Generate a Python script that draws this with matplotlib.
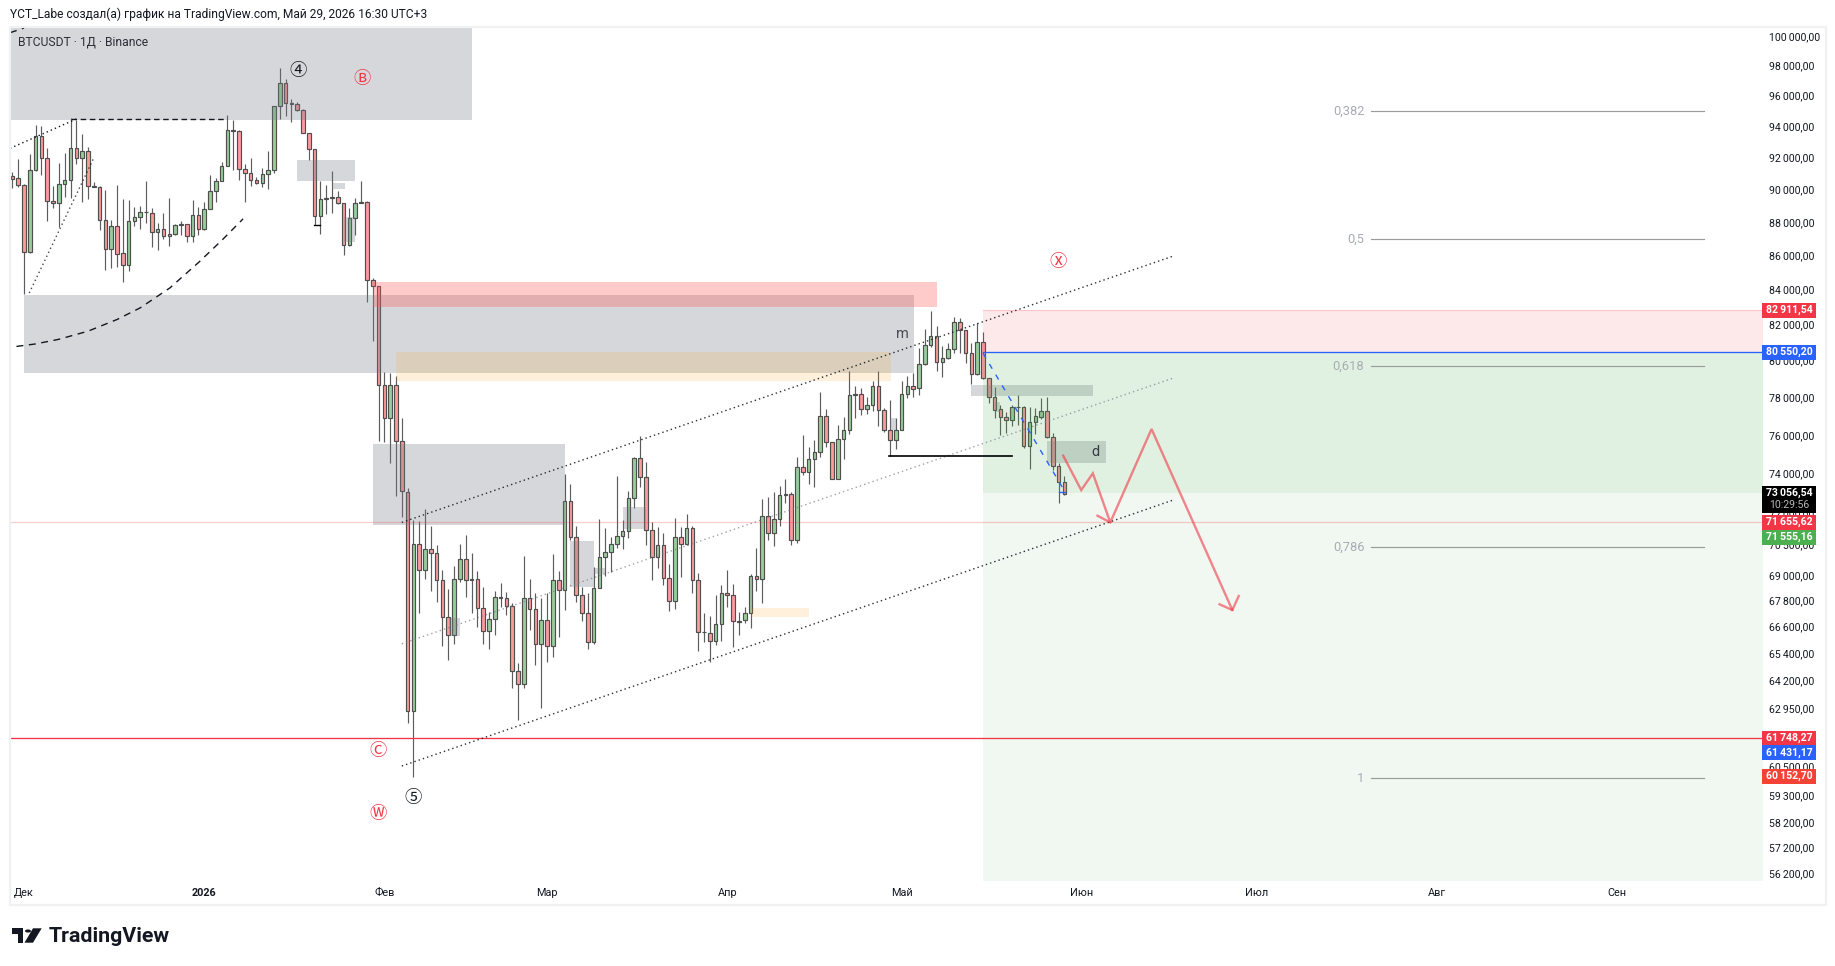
import numpy as np
import matplotlib
matplotlib.use("Agg")
import matplotlib.pyplot as plt
import matplotlib.transforms as mtransforms
from matplotlib.patches import Rectangle, Polygon, Circle

plt.rcParams['font.family'] = ['Roboto', 'DejaVu Sans']

# Daily BTCUSDT candles, first one is 29 Nov 2025, day 0 is 1 Jan 2026
days = np.arange(-33, 149)

opens = [90820, 90690, 90260, 86185, 91190, 93355, 91945, 89260, 89140, 90320,
         90570, 92575, 91945, 92380, 90190, 90150, 88110, 86360, 87750, 86130,
         85425, 88050, 88295, 88615, 88540, 87390, 87575, 87150, 87270, 87830,
         87870, 87150, 88415, 87575, 88785, 89880, 90510, 91445, 93720, 93685,
         91260, 91010, 90570, 90380, 90945, 91190, 95305, 96830, 95500, 95435,
         95045, 93545, 92510, 88355, 89385, 89465, 89505, 89140, 86605, 88230,
         89200, 89200, 84550, 84200, 78645, 76880, 78645, 75670, 73087, 62830,
         70485, 69242, 70240, 70049, 68766, 67034, 66206, 68813, 69764, 68766,
         68813, 67448, 66391, 66942, 67958, 67910, 67568, 64584, 64007, 67910,
         67402, 65792, 66896, 65700, 68766, 68291, 72601, 70831, 68053, 67218,
         65884, 68386, 69859, 70097, 70485, 70880, 71125, 72752, 74790, 73821,
         71175, 69859, 70435, 68860, 67770, 70831, 70485, 71272, 68766, 66358,
         66300, 65936, 66712, 68177, 68053, 66864, 66896, 67218, 68957, 68813,
         71863, 71027, 71715, 72905, 72955, 70683, 74331, 74076, 74739, 75096,
         76986, 75618, 73719, 75776, 76249, 78116, 78153, 77354, 77564, 78590,
         77301, 76249, 75723, 76249, 78153, 78590, 78481, 79791, 80838, 81346,
         79900, 80119, 80612, 82135, 81685, 80392, 79245, 81007, 79027, 78023,
         77354, 76933, 76754, 77459, 77490, 75439, 76670, 76965, 77249, 75881,
         74382, 73568]
highs = [91070, 91900, 90300, 92210, 94090, 94025, 92575, 90230, 91630, 92260,
         94520, 94410, 93500, 92680, 90480, 90190, 89960, 88130, 90280, 89400,
         89340, 88935, 88995, 90525, 88840, 87930, 88540, 89450, 87890, 88030,
         87890, 89340, 88935, 89240, 90900, 90690, 91695, 94740, 94370, 93720,
         91590, 91985, 90795, 91320, 92400, 95305, 97855, 97120, 95780, 95565,
         95110, 93545, 92510, 90525, 90280, 91150, 89915, 89140, 88840, 89460,
         90525, 89260, 84665, 84200, 79354, 79316, 79136, 76880, 73260, 71681,
         71598, 72222, 71386, 70452, 69256, 68353, 69446, 70500, 70944, 70049,
         69208, 68433, 67264, 68258, 68623, 68210, 67678, 64953, 69921, 68827,
         68148, 67910, 68148, 70016, 69208, 73989, 73490, 71386, 68462, 68148,
         69413, 71730, 71272, 70845, 73853, 71680, 73125, 74841, 75950, 74601,
         71568, 71323, 71027, 69541, 71779, 71323, 71976, 71386, 69099, 67218,
         67094, 68068, 68528, 69256, 68590, 67292, 67494, 69066, 70318, 72700,
         72798, 73058, 73376, 73714, 73078, 74841, 76002, 75387, 75739, 78280,
         77370, 75634, 76528, 76965, 79442, 78606, 78481, 78023, 78880, 79425,
         77422, 77843, 76896, 78896, 79152, 79316, 80698, 81759, 82774, 81889,
         80815, 80971, 82415, 82375, 81702, 80971, 82078, 81573, 79043, 78535,
         77580, 77212, 77580, 78116, 77527, 77475, 77438, 77948, 78000, 76091,
         74535, 73853]
lows = [90110, 90170, 83760, 86130, 91150, 90860, 88030, 88840, 87670, 89550,
        89450, 91590, 89200, 89400, 90130, 87530, 85130, 85250, 85285, 84410,
        85050, 87730, 87575, 87930, 86520, 86320, 86970, 86560, 87225, 87225,
        86785, 86820, 87225, 87530, 88785, 89240, 90510, 91445, 91210, 90550,
        89240, 90210, 90340, 90170, 90045, 91010, 94480, 94630, 94240, 95000,
        93545, 91840, 87810, 87245, 88475, 88540, 89100, 86025, 86560, 87225,
        89150, 83300, 81100, 75702, 75650, 74565, 72882, 71843, 62317, 60040,
        67218, 68827, 68272, 67752, 65728, 65086, 65820, 68699, 67958, 67246,
        66600, 65820, 65590, 66234, 67522, 67154, 63856, 62471, 63856, 66450,
        64877, 62983, 65010, 65232, 66142, 67370, 70700, 67752, 66864, 65590,
        65792, 68386, 68938, 69147, 70290, 70255, 70781, 72257, 73341, 70452,
        68748, 69365, 68556, 67338, 67430, 68890, 70452, 68148, 65499, 65918,
        64984, 65760, 65944, 67522, 65682, 66220, 66786, 66542, 68272, 67706,
        70698, 70413, 71386, 72503, 70452, 70536, 73950, 73481, 73301, 74871,
        75387, 73700, 73700, 74769, 76055, 76912, 77054, 77106, 77264, 76439,
        76160, 74907, 75281, 76249, 77936, 78023, 78116, 79753, 80724, 79442,
        79114, 80064, 80392, 80425, 79846, 78716, 79207, 78972, 77685, 76880,
        76002, 76091, 76470, 76528, 75334, 74244, 76055, 76828, 75828, 74193,
        72532, 72900]
closes = [90670, 90260, 86185, 91190, 93355, 91945, 89260, 89140, 90320, 90570,
          92575, 91945, 92380, 90190, 90140, 88110, 86360, 87750, 86100, 85425,
          88050, 88295, 88600, 88575, 87390, 87575, 87150, 87270, 87810, 87870,
          87150, 88415, 87575, 88785, 89880, 90510, 91445, 93745, 93685, 91260,
          91010, 90570, 90380, 90945, 91190, 95305, 96830, 95500, 95475, 95045,
          93545, 92510, 88355, 89385, 89450, 89510, 89140, 86605, 88230, 89140,
          89180, 84550, 84200, 78645, 76880, 78645, 75670, 73107, 62830, 70485,
          69242, 70240, 70049, 68766, 67034, 66206, 68813, 69764, 68766, 68813,
          67448, 66391, 66942, 67958, 67940, 67568, 64584, 64007, 67910, 67402,
          65792, 66896, 65700, 68766, 68291, 72601, 70831, 68053, 67218, 65884,
          68386, 69859, 70097, 70485, 70880, 71125, 72752, 74790, 73821, 71175,
          69859, 70435, 68860, 67770, 70831, 70485, 71272, 68766, 66345, 66335,
          65936, 66712, 68177, 68053, 66850, 66832, 67218, 68957, 68813, 71863,
          71027, 71715, 72905, 72955, 70683, 74331, 74076, 74739, 75096, 76986,
          75618, 73719, 75776, 76249, 78100, 78153, 77354, 77564, 78590, 77301,
          76249, 75723, 76249, 78153, 78590, 78459, 79791, 80838, 81346, 79900,
          80119, 80612, 82135, 81685, 80392, 79245, 81007, 79027, 78023, 77317,
          76933, 76754, 77459, 77475, 75439, 76670, 76986, 77249, 75881, 74382,
          73568, 72960]

# Readings above and in the zone lists came off the label centres, about 2px high
READ_FIX = 1.0013

month_days = [-31, 0, 31, 59, 90, 120, 151, 181, 212, 243]
month_labels = ['Дек', '2026', 'Фев', 'Мар', 'Апр', 'Май', 'Июн', 'Июл', 'Авг', 'Сен']

price_ticks = [100000, 98000, 96000, 94000, 92000, 90000, 88000, 86000, 84000, 82000,
               80000, 78000, 76000, 74000, 72000, 70500, 69000, 67800, 66600, 65400,
               64200, 62950, 60500, 59300, 58200, 57200, 56200]

# day from, day to, price low, price high
gray_zones = [(-40, 46, 94369, 103000), (-31, 122.1, 79333, 83687), (29, 62, 71436, 75520),
              (16, 26, 90515, 91839), (22, 24.2, 90030, 90400), (24, 26, 86805, 88313),
              (63, 67, 68462, 70650), (67, 69, 69051, 69351), (72, 76.1, 71253, 72306),
              (42.2, 44.1, 66188, 66988), (118, 119, 76249, 76880), (132, 153, 78053, 78661),
              (136, 137, 77196, 77754), (145, 155.1, 74565, 75686)]
red_zones = [(29, 126, 83016, 84448)]
peach_zones = [(33, 118.1, 78896, 80463), (94, 104, 67062, 67462)]

# short position tool
pos_start, pos_end = 134, 275
pos_top, pos_entry, pos_mid, pos_bottom = 82911.54, 80550.20, 73120, 50000

line_red = 61748.27
line_pink = 71655.62

fib_levels = ['0,382', '0,5', '0,618', '0,786', '1']
fib_prices = [95095, 87064, 79791, 70428, 60070]
fib_start, fib_end = 200.8, 258

channel_days = (34, 166.9)
channel_top = (71645, 86088)
channel_mid = (65900, 79152)
channel_low = (60581, 72774)

arc_days = [-32.3, -29.1, -25.1, -20, -15, -11, -5.9, -0.9, 3.1, 6.7]
arc_prices = [80875, 81010, 81266, 81727, 82388, 83054, 84200, 85710, 87029, 88303]

zig_days = [147.8, 150.9, 152.9, 155.9, 163, 176.9]
zig_prices = [75013, 73260, 74108, 71645, 76404, 67451]
arrow_days = [153.7, 155.9]
arrow_prices = [71977, 71645]
head_days = [174.7, 176.9, 178]
head_prices = [67717, 67451, 68105]

W, H = 1835, 966
fig = plt.figure(figsize=(W / 100, H / 100), dpi=100, facecolor='white')
ax_left, ax_right, ax_top, ax_bottom = 10, 1762, 27, 880
ax = fig.add_axes([ax_left / W, 1 - ax_bottom / H, (ax_right - ax_left) / W, (ax_bottom - ax_top) / H])
ax.set_yscale('log')
ax.set_xlim(-33.41, 268.03)
ax.set_ylim(56009, 100771)
for s in ax.spines.values():
    s.set_visible(False)

o = np.array(opens) * READ_FIX
h = np.array(highs) * READ_FIX
l = np.array(lows) * READ_FIX
c = np.array(closes) * READ_FIX
up = c >= o

# candles sit under the drawings, the zones tint them
edge = '#4f4f4f'
ax.vlines(days, l, h, color='#5c5c5c', lw=0.85, zorder=2)
body_low = np.minimum(o, c)
body_h = np.abs(c - o)
ax.bar(days[up], body_h[up], bottom=body_low[up], width=0.62, color='#98CE9B',
       edgecolor=edge, linewidth=0.85, zorder=2.5)
ax.bar(days[~up], body_h[~up], bottom=body_low[~up], width=0.62, color='#FC9A9C',
       edgecolor=edge, linewidth=0.85, zorder=2.5)

def zone(d0, d1, p0, p1, color, alpha, z=3):
    ax.fill_between([d0, d1], [p0, p0], [p1, p1], color=color, alpha=alpha, lw=0, zorder=z)

for d0, d1, p0, p1 in gray_zones:
    zone(d0, d1, p0 * READ_FIX, p1 * READ_FIX, '#787B86', 0.3)
for d0, d1, p0, p1 in red_zones:
    zone(d0, d1, p0 * READ_FIX, p1 * READ_FIX, '#FF5252', 0.3)
for d0, d1, p0, p1 in peach_zones:
    zone(d0, d1, p0 * READ_FIX, p1 * READ_FIX, '#FF9800', 0.14)

zone(pos_start, pos_end, pos_entry, pos_top, '#F23645', 0.11)
zone(pos_start, pos_end, pos_mid, pos_entry, '#4CAF50', 0.168)
zone(pos_start, pos_end, pos_bottom, pos_mid, '#4CAF50', 0.08)
ax.plot([pos_start, pos_end], [pos_top, pos_top], color='#F23645', alpha=0.2, lw=0.8, zorder=4)
ax.plot([pos_start, pos_end], [pos_entry, pos_entry], color='#2962FF', lw=0.95, zorder=4)

ax.axhline(line_pink, color='#F23645', alpha=0.25, lw=0.9, zorder=4)
ax.axhline(line_red, color='#F23645', lw=0.95, zorder=4)

# fib levels
for name, price in zip(fib_levels, fib_prices):
    ax.plot([fib_start, fib_end], [price, price], color='#9a9c9a', lw=0.85, zorder=4)
    ax.annotate(name, (fib_start, price), xytext=(-7, 0), textcoords='offset pixels',
                ha='right', va='center', fontsize=9.3, color='#A9ACB4', zorder=4)

# channel and the other trend lines
dot = (0, (1, 2.2))
for prices, col, a in [(channel_top, '#131722', 0.9), (channel_mid, '#787B86', 0.7), (channel_low, '#131722', 0.9)]:
    ax.plot(channel_days, prices, color=col, alpha=a, lw=1.0, ls=dot, zorder=4)
ax.plot([-33.4, -22], [92696, 94584], color='#131722', lw=1.0, ls=dot, zorder=4)
ax.plot([-30.1, -19], [83905, 92080], color='#131722', alpha=0.8, lw=1.0, ls=dot, zorder=4)
ax.plot([-23, 4], [94584, 94584], color='#131722', lw=1.0, ls=(0, (4, 2.6)), zorder=4)
ax.plot(arc_days, arc_prices, color='#131722', lw=1.0, ls=(0, (5, 4)), zorder=4)
ax.plot([-33.4, -31], [100375, 100700], color='#131722', lw=1.0, ls=(0, (5, 4)), zorder=4)
ax.plot([117.8, 139], [74982, 74982], color='black', lw=1.2, zorder=4)
ax.plot([18.9, 19.9], [87909, 87909], color='black', lw=1.0, zorder=4)
ax.plot([134, 148.1], [80500, 73177], color='#2962FF', lw=1.0, ls=(0, (4, 5)), zorder=4)
ax.plot([147, 148.1], [73177, 73177], color='#2962FF', lw=1.0, zorder=4)

# projected path
ax.plot(zig_days, zig_prices, color='#F23645', alpha=0.6, lw=1.7, zorder=5, solid_joinstyle='miter')
ax.plot(arrow_days, arrow_prices, color='#F23645', alpha=0.6, lw=1.7, zorder=5)
ax.plot(head_days, head_prices, color='#F23645', alpha=0.6, lw=1.7, zorder=5)

# wave labels
for txt, d, p, col in [('④', 16.1, 97743, '#131722'), ('Ⓑ', 27.1, 97208, '#F23645'),
                       ('Ⓧ', 147, 85697, '#F23645'), ('Ⓒ', 30, 61223, '#F23645'),
                       ('⑤', 36, 59249, '#131722'), ('Ⓦ', 30, 58600, '#F23645')]:
    ax.text(d, p, txt, ha='center', va='center', fontsize=12.5, color=col,
            family=['Noto Sans CJK JP', 'DejaVu Sans'], zorder=6)
ax.text(120.1, 81569, 'm', ha='center', va='center', fontsize=10.5, color='#4a4d57', zorder=6)
ax.text(153.4, 75219, 'd', ha='center', va='center', fontsize=10.5, color='#363a45', zorder=6)

# axes
ax.minorticks_off()
ax.yaxis.tick_right()
ax.set_yticks(price_ticks)
ax.set_yticklabels([f'{p // 1000}\u2009{p % 1000:03d},00' for p in price_ticks])
ax.yaxis.set_minor_locator(matplotlib.ticker.NullLocator())
ax.tick_params(axis='y', length=0, pad=5, labelsize=7.6, labelcolor='#131722')
ax.set_xticks(month_days, month_labels)
ax.tick_params(axis='x', length=0, pad=6, labelsize=7.8, labelcolor='#131722')
ax.get_xticklabels()[1].set_fontweight('bold')
lift = mtransforms.ScaledTranslation(0, 2 / 100, fig.dpi_scale_trans)
for lab in ax.get_yticklabels():
    lab.set_transform(lab.get_transform() + lift)

def fx(x):
    return x / W

def fy(y):
    return 1 - y / H

# price tags on the axis
tags = [('82\u2009911,54', 310.3, '#F23645'), ('80\u2009550,20', 352.3, '#2962FF'),
        ('71\u2009655,62', 522.3, '#F23645'), ('71\u2009555,16', 537, '#4CAF50'),
        ('61\u2009748,27', 738.3, '#F23645'), ('61\u2009431,17', 752.7, '#2962FF'),
        ('60\u2009152,70', 776.3, '#F44336')]
for txt, y, col in tags:
    fig.add_artist(Rectangle((fx(1762), fy(y + 7.5)), 54 / W, 15 / H, transform=fig.transFigure,
                             fc=col, ec='none', zorder=5))
    fig.text(fx(1789), fy(y), txt, color='white', ha='center', va='center', fontsize=7.6,
             fontweight='bold', zorder=6)
fig.add_artist(Rectangle((fx(1762), fy(513)), 54 / W, 27 / H, transform=fig.transFigure,
                         fc='black', ec='none', zorder=5))
fig.text(fx(1789), fy(492.5), '73\u2009056,54', color='white', ha='center', va='center',
         fontsize=7.6, fontweight='bold', zorder=6)
fig.text(fx(1789), fy(505), '10:29:56', color='#b8b8b8', ha='center', va='center', fontsize=7.6, zorder=6)

# panel frame
fig.add_artist(Rectangle((fx(9.5), fy(905)), 1816 / W, 878 / H, transform=fig.transFigure,
                         fc='none', ec='#F0F1F2', lw=1.6, zorder=4))

# header texts
fig.text(fx(10), fy(14.5), 'YCT_Labe создал(а) график на TradingView.com, Май 29, 2026 16:30 UTC+3',
         fontsize=8.65, color='#131722', va='center')
fig.text(fx(18), fy(41.5), 'BTCUSDT · 1Д · Binance', fontsize=8.7, color='#2a2e39', va='center', zorder=6)

# logo
for pts in ([(12, 928.3), (23.3, 928.3), (23.3, 942.7), (17.7, 942.7), (17.7, 934), (12, 934)],
            [(33, 928.3), (41.7, 928.3), (33, 942.7), (24.5, 942.7)]):
    fig.add_artist(Polygon([(fx(a), fy(b)) for a, b in pts], closed=True, transform=fig.transFigure,
                           fc='#131722', ec='none'))
fig.add_artist(Circle((fx(28), fy(931)), 3 / W, transform=fig.transFigure, fc='#131722', ec='none'))
fig.text(fx(49), fy(935), 'TradingView', fontsize=15.4, fontweight='bold', color='#131722',
         va='center_baseline')

fig.savefig('out.png', dpi=100)
